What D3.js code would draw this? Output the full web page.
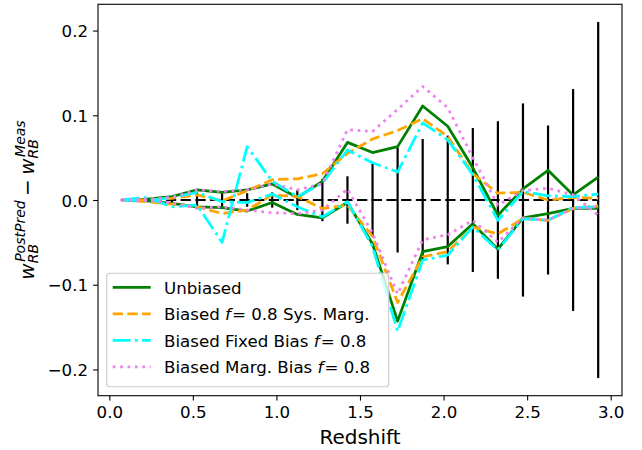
<!DOCTYPE html>
<html>
<head>
<meta charset="utf-8">
<script src="https://cdn.jsdelivr.net/npm/d3@7"></script>
<style>
  html, body { margin: 0; padding: 0; background: #ffffff; }
  svg { display: block; font-family: "DejaVu Sans", sans-serif; }
</style>
</head>
<body>
<svg id="chart" width="642" height="450"></svg>
<script>
// ---------------- data ----------------
const redshift = [0.075, 0.225, 0.375, 0.525, 0.675, 0.825, 0.975, 1.125, 1.275, 1.425,
                  1.575, 1.725, 1.875, 2.025, 2.175, 2.325, 2.475, 2.625, 2.775, 2.925];

const unbiasedUpper = [0.000, 0.001, 0.004, 0.012, 0.009, 0.012, 0.019, 0.003, 0.022, 0.068,
                       0.056, 0.063, 0.111, 0.087, 0.038, -0.018, 0.013, 0.035, 0.006, 0.027];
const unbiasedLower = [0.000, -0.001, -0.004, -0.008, -0.009, -0.013, -0.003, -0.017, -0.021, -0.003,
                       -0.052, -0.143, -0.061, -0.055, -0.028, -0.058, -0.021, -0.016, -0.010, -0.010];

const sysMargUpper = [0.000, 0.000, 0.002, 0.006, -0.001, 0.011, 0.024, 0.025, 0.031, 0.055,
                      0.072, 0.082, 0.096, 0.075, 0.031, 0.008, 0.009, 0.000, 0.003, 0.002];
const sysMargLower = [0.000, -0.002, -0.005, -0.008, -0.016, -0.012, 0.006, 0.004, -0.010, -0.006,
                      -0.043, -0.121, -0.067, -0.061, -0.032, -0.040, -0.022, -0.024, -0.010, -0.007];

const fixedBiasA = [0.000, 0.003, -0.008, -0.006, -0.050, 0.063, 0.022, 0.004, 0.020, 0.059,
                    0.044, 0.033, 0.091, 0.071, 0.030, -0.024, 0.010, 0.005, 0.004, 0.007];
const fixedBiasB = [0.000, -0.001, 0.003, 0.009, -0.002, -0.003, 0.007, -0.008, -0.020, -0.002,
                    -0.055, -0.155, -0.071, -0.065, -0.032, -0.059, -0.022, -0.024, -0.009, -0.008];

const margBiasUpper = [0.000, 0.001, 0.003, 0.012, 0.010, 0.012, 0.019, 0.012, 0.019, 0.083,
                       0.081, 0.107, 0.134, 0.109, 0.050, -0.006, 0.011, 0.014, 0.006, -0.018];
const margBiasLower = [0.000, -0.001, -0.003, -0.010, -0.008, -0.012, -0.015, -0.016, -0.012, 0.013,
                       -0.039, -0.111, -0.047, -0.041, -0.024, -0.050, -0.021, -0.024, -0.010, -0.008];

const measError = [0.001, 0.002, 0.004, 0.009, 0.008, 0.008, 0.009, 0.012, 0.025, 0.028,
                   0.044, 0.062, 0.072, 0.076, 0.085, 0.093, 0.114, 0.088, 0.131, 0.210];

const xTicks = [0.0, 0.5, 1.0, 1.5, 2.0, 2.5, 3.0];
const yTicks = [-0.2, -0.1, 0.0, 0.1, 0.2];

const legendLabels = ["Unbiased", "Biased f= 0.8 Sys. Marg.", "Biased Fixed Bias f= 0.8", "Biased Marg. Bias f= 0.8"];

// ---------------- layout ----------------
const svg = d3.select("#chart");
const L = 98, R = 622, T = 4.3, B = 395.7;
const x = d3.scaleLinear().domain([-0.0675, 3.0675]).range([L, R]);
const y = d3.scaleLinear().domain([-0.231, 0.231]).range([B, T]);

const series = [
  { label: legendLabels[0], color: "#008000", dash: null,                 data: [unbiasedUpper, unbiasedLower] },
  { label: legendLabels[1], color: "#ffa500", dash: "10.3,4.4",           data: [sysMargUpper, sysMargLower] },
  { label: legendLabels[2], color: "#00ffff", dash: "17.8,4.4,2.8,4.4",   data: [fixedBiasA, fixedBiasB] },
  { label: legendLabels[3], color: "#ee82ee", dash: "2.8,4.6",            data: [margBiasUpper, margBiasLower] }
];
const LW = 2.78;

// zero line
svg.append("line")
  .attr("x1", x(redshift[0])).attr("x2", x(redshift[redshift.length - 1]))
  .attr("y1", y(0)).attr("y2", y(0))
  .attr("stroke", "#000").attr("stroke-width", 2.2)
  .attr("stroke-dasharray", "10.3,4.4");

// error bars
svg.append("g").selectAll("line")
  .data(redshift.map((z, i) => ({ z, e: measError[i] })))
  .join("line")
  .attr("x1", d => x(d.z)).attr("x2", d => x(d.z))
  .attr("y1", d => y(-d.e)).attr("y2", d => y(d.e))
  .attr("stroke", "#000").attr("stroke-width", 2.2);

// series lines
const line = d3.line().x((d, i) => x(redshift[i])).y(d => y(d));
series.forEach(s => {
  s.data.forEach(arr => {
    svg.append("path")
      .attr("d", line(arr))
      .attr("fill", "none")
      .attr("stroke", s.color)
      .attr("stroke-width", LW)
      .attr("stroke-linejoin", "round")
      .attr("stroke-dasharray", s.dash);
  });
});

// axes
const xAxis = svg.append("g")
  .attr("transform", `translate(0,${B})`)
  .call(d3.axisBottom(x).tickValues(xTicks).tickFormat(d3.format(".1f")).tickSize(4.9).tickSizeOuter(0).tickPadding(5.5));
const yAxis = svg.append("g")
  .attr("transform", `translate(${L},0)`)
  .call(d3.axisLeft(y).tickValues(yTicks).tickFormat(d3.format(".1f")).tickSize(4.9).tickSizeOuter(0).tickPadding(5));
[xAxis, yAxis].forEach(a => {
  a.select(".domain").remove();
  a.selectAll(".tick line").attr("stroke", "#000").attr("stroke-width", 1.1);
  a.selectAll(".tick text").attr("fill", "#000")
    .style("font-family", "DejaVu Sans").style("font-size", "16.67px");
});
yAxis.selectAll(".tick text").attr("dy", "0.36em");

// frame
svg.append("rect")
  .attr("x", L).attr("y", T).attr("width", R - L).attr("height", B - T)
  .attr("fill", "none").attr("stroke", "#000").attr("stroke-width", 1.1);

// x label
svg.append("text")
  .attr("x", (L + R) / 2).attr("y", 444)
  .attr("text-anchor", "middle")
  .style("font-size", "20px").attr("fill", "#000")
  .text("Redshift");

// y label (math-like)
const yl = svg.append("g").attr("transform", "translate(33.5,200) rotate(-90)");
const inner = yl.append("g");
function piece(txt, px, dx, dy, italic) {
  const t = inner.append("text")
    .attr("x", dx).attr("y", dy)
    .style("font-size", px + "px")
    .style("font-style", italic ? "italic" : "normal")
    .attr("fill", "#000")
    .text(txt);
  return t.node().getComputedTextLength();
}
let cx = 0;
const w1 = piece("w", 20, cx, 0, true);
cx += w1;
const s1 = piece("RB", 14, cx, 4.8, true);
const p1 = piece("PostPred", 14, cx + 1.5, -8.5, true);
cx += Math.max(s1, p1 + 1.5) + 4.4;
const m = piece("\u2212", 20, cx, 0, false);
cx += m + 4.4;
const w2 = piece("w", 20, cx, 0, true);
cx += w2;
const s2 = piece("RB", 14, cx, 4.8, true);
const p2 = piece("Meas", 14, cx + 1.5, -8.5, true);
cx += Math.max(s2, p2 + 1.5);
inner.attr("transform", `translate(${-cx / 2},0)`);

// legend
const lg = svg.append("g");
lg.append("rect")
  .attr("x", 106.7).attr("y", 273.3).attr("width", 282).attr("height", 113.4)
  .attr("rx", 3).attr("ry", 3)
  .attr("fill", "#ffffff").attr("fill-opacity", 0.8)
  .attr("stroke", "#cccccc").attr("stroke-width", 1.1);
const rowY = [287.3, 313.8, 340.3, 366.8];
series.forEach((s, i) => {
  lg.append("line")
    .attr("x1", 112.7).attr("x2", 150.7)
    .attr("y1", rowY[i]).attr("y2", rowY[i])
    .attr("stroke", s.color).attr("stroke-width", LW)
    .attr("stroke-dasharray", s.dash);
  const t = lg.append("text")
    .attr("x", 164).attr("y", rowY[i] + 6.2)
    .style("font-size", "16.67px").attr("fill", "#000");
  const parts = s.label.split("f=");
  if (parts.length === 1) {
    t.text(s.label);
  } else {
    t.append("tspan").text(parts[0]);
    t.append("tspan").style("font-style", "italic").text("f");
    t.append("tspan").attr("dx", 1).text("=" + parts[1]);
  }
});
</script>
</body>
</html>
